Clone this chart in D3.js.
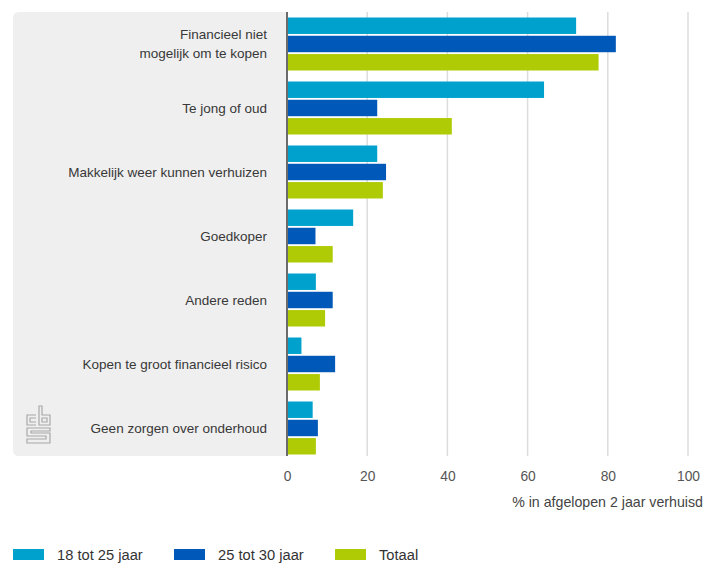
<!DOCTYPE html>
<html>
<head>
<meta charset="utf-8">
<script src="https://cdn.jsdelivr.net/npm/d3@7"></script>
<style>
  html, body { margin: 0; padding: 0; background: #fff; }
  svg { display: block; font-family: "Liberation Sans", Arial, Helvetica, sans-serif; }
</style>
</head>
<body>
<svg id="chart" width="713" height="563"></svg>
<script>
// Redenen om te huren, naar leeftijdsgroep
const categories = [
  "Financieel niet\nmogelijk om te kopen",
  "Te jong of oud",
  "Makkelijk weer kunnen verhuizen",
  "Goedkoper",
  "Andere reden",
  "Kopen te groot financieel risico",
  "Geen zorgen over onderhoud"
];
const seriesNames = ["18 tot 25 jaar", "25 tot 30 jaar", "Totaal"];
const seriesColors = ["#00a1cd", "#0058b8", "#afcb05"];
const values18to25 = [72.1, 64.1, 22.5, 16.5, 7.2, 3.6, 6.4];
const values25to30 = [82.0, 22.5, 24.7, 7.1, 11.4, 12.0, 7.7];
const valuesTotaal = [77.7, 41.1, 23.9, 11.4, 9.5, 8.2, 7.2];
const xTicks = [0, 20, 40, 60, 80, 100];
const xTitle = "% in afgelopen 2 jaar verhuisd";

const series = [values18to25, values25to30, valuesTotaal];

const svg = d3.select("#chart");
const plot = { left: 287, right: 688, top: 12, bottom: 460 };

const x = d3.scaleLinear().domain([0, 100]).range([plot.left, plot.right]);
const y = d3.scaleBand().domain(categories).range([plot.top, plot.bottom])
  .paddingInner(0.172).paddingOuter(0.086);
const yInner = d3.scaleBand().domain(d3.range(seriesNames.length))
  .range([0, y.bandwidth()]).paddingInner(0.1);

// grey label panel with rounded left corners
const panelLeft = 13, panelTop = 12, panelBottom = 456, r = 6;
svg.append("path")
  .attr("d", `M${plot.left},${panelTop} L${panelLeft + r},${panelTop} Q${panelLeft},${panelTop} ${panelLeft},${panelTop + r}
    L${panelLeft},${panelBottom - r} Q${panelLeft},${panelBottom} ${panelLeft + r},${panelBottom} L${plot.left},${panelBottom} Z`)
  .attr("fill", "#efefef");

// vertical gridlines
svg.append("g")
  .selectAll("line")
  .data(xTicks.filter(d => d > 0))
  .join("line")
  .attr("x1", d => x(d)).attr("x2", d => x(d))
  .attr("y1", plot.top).attr("y2", panelBottom)
  .attr("stroke", "#dcdcdc").attr("stroke-width", 1.5);

// bars
const groups = svg.append("g")
  .selectAll("g")
  .data(categories)
  .join("g")
  .attr("transform", d => `translate(0,${y(d)})`);

groups.selectAll("rect")
  .data((c, i) => series.map((s, k) => ({ k, v: s[i] })))
  .join("rect")
  .attr("x", x(0))
  .attr("y", d => yInner(d.k))
  .attr("width", d => x(d.v) - x(0))
  .attr("height", yInner.bandwidth())
  .attr("fill", d => seriesColors[d.k]);

// zero axis line
svg.append("line")
  .attr("x1", x(0)).attr("x2", x(0))
  .attr("y1", plot.top).attr("y2", panelBottom)
  .attr("stroke", "#6b6b6b").attr("stroke-width", 2);

// category labels
const labels = svg.append("g")
  .selectAll("text")
  .data(categories)
  .join("text")
  .attr("x", 267)
  .attr("text-anchor", "end")
  .attr("font-size", 13.5)
  .attr("fill", "#383838");
labels.each(function (d) {
  const lines = d.split("\n");
  const cy = y(d) + y.bandwidth() / 2;
  const lh = 19;
  d3.select(this).selectAll("tspan")
    .data(lines)
    .join("tspan")
    .attr("x", 267)
    .attr("y", (l, i) => cy + (i - (lines.length - 1) / 2) * lh)
    .attr("dy", "0.35em")
    .text(l => l);
});

// x axis labels
const xAxis = d3.axisBottom(x).tickValues(xTicks).tickSize(0).tickPadding(0);
const gx = svg.append("g").attr("transform", `translate(0,${panelBottom + 15})`).call(xAxis);
gx.select(".domain").remove();
gx.selectAll("text")
  .attr("font-size", 13.8)
  .attr("font-family", "Liberation Sans, Arial, sans-serif")
  .attr("fill", "#555");

svg.append("text")
  .attr("x", 703).attr("y", 502).attr("dy", "0.35em")
  .attr("text-anchor", "end")
  .attr("font-size", 14.2)
  .attr("fill", "#444")
  .text(xTitle);

// CBS logo
const logo = svg.append("g")
  .attr("transform", "translate(26,406)")
  .attr("fill", "none")
  .attr("stroke", "#a8a8a8")
  .attr("stroke-width", 1.2);
// c
logo.append("path").attr("d", "M10,9 H1 V19 H10 M10,12 H4 V16 H10");
// b
logo.append("path").attr("d", "M13,0 H16 V9 H24 V19 H13 Z M16,12 V16 H21 V12 Z");
// s
logo.append("path").attr("d", "M24,22 H1 V30 H20 V33 H1 V37 H24 V27 H5 V25 H24 Z");

// legend
const legendX = [13, 174, 335];
const legend = svg.append("g")
  .selectAll("g")
  .data(seriesNames)
  .join("g")
  .attr("transform", (d, i) => `translate(${legendX[i]},549)`);
legend.append("rect")
  .attr("width", 31).attr("height", 11)
  .attr("fill", (d, i) => seriesColors[i]);
legend.append("text")
  .attr("x", 44).attr("y", 6).attr("dy", "0.35em")
  .attr("font-size", 14.7)
  .attr("fill", "#333")
  .text(d => d);
</script>
</body>
</html>
